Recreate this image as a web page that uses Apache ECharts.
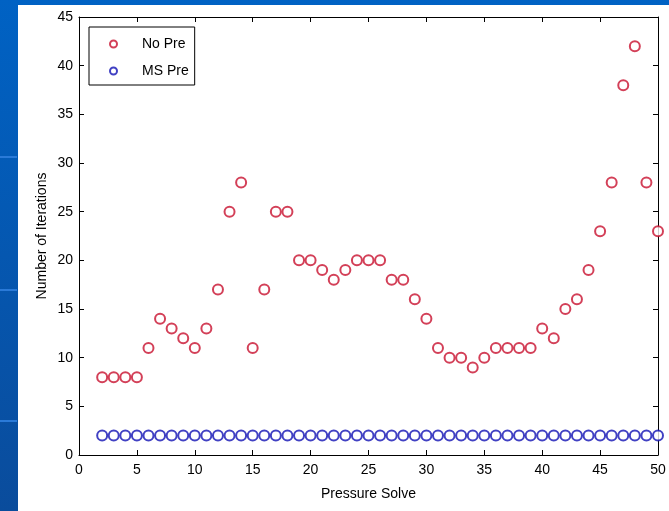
<!DOCTYPE html>
<html>
<head>
<meta charset="utf-8">
<script src="https://cdn.jsdelivr.net/npm/echarts@6/dist/echarts.min.js"></script>
<style>
  html, body { margin: 0; padding: 0; }
  #chart { width: 669px; height: 511px; }
</style>
</head>
<body>
<div id="chart"></div>
<script>
// Pressure solve index (x) and iteration counts per solve
const solves = [2,3,4,5,6,7,8,9,10,11,12,13,14,15,16,17,18,19,20,21,22,23,24,25,26,
                27,28,29,30,31,32,33,34,35,36,37,38,39,40,41,42,43,44,45,46,47,48,49,50];
const noPre = [8,8,8,8,11,14,13,12,11,13,17,25,28,11,17,25,25,20,20,19,18,19,20,20,20,
               18,18,16,14,11,10,10,9,10,11,11,11,11,13,12,15,16,19,23,28,38,42,28,23];
const msPre = [2,2,2,2,2,2,2,2,2,2,2,2,2,2,2,2,2,2,2,2,2,2,2,2,2,
               2,2,2,2,2,2,2,2,2,2,2,2,2,2,2,2,2,2,2,2,2,2,2,2];
const xTicks = [0,5,10,15,20,25,30,35,40,45,50];
const yTicks = [0,5,10,15,20,25,30,35,40,45];

const FONT = '"Liberation Sans", Arial, sans-serif';
const RED = '#c8102e';
const BLUE = '#1212b4';

const pairs = (xs, ys) => xs.map((x, i) => [x, ys[i]]);

const chart = echarts.init(document.getElementById('chart'));

// Mirror axes on top/right: box line with inward ticks, no labels
const tickOnly = {
  axisLine: { show: true, onZero: false, lineStyle: { color: '#000', width: 1 } },
  axisTick: { show: true, inside: true, length: 5, lineStyle: { color: '#000' } },
  axisLabel: { show: false },
  splitLine: { show: false }
};

chart.setOption({
  backgroundColor: {
    type: 'linear', x: 0, y: 0, x2: 0, y2: 1,
    colorStops: [{ offset: 0, color: '#0062c4' }, { offset: 1, color: '#0a4c9c' }]
  },
  animation: false,
  graphic: [
    { type: 'rect', z: -10, shape: { x: 18, y: 5, width: 651, height: 506 }, style: { fill: '#ffffff' } },
    { type: 'line', z: -10, shape: { x1: 0, y1: 157, x2: 17, y2: 157 }, style: { stroke: '#2a7ad8', lineWidth: 2 } },
    { type: 'line', z: -10, shape: { x1: 0, y1: 290, x2: 17, y2: 290 }, style: { stroke: '#2a7ad8', lineWidth: 2 } },
    { type: 'line', z: -10, shape: { x1: 0, y1: 421, x2: 17, y2: 421 }, style: { stroke: '#2a7ad8', lineWidth: 2 } }
  ],
  grid: { left: 79, right: 11, top: 17, bottom: 56 },
  legend: {
    left: 89, top: 27,
    orient: 'vertical',
    backgroundColor: '#fff',
    borderColor: '#000', borderWidth: 1, borderRadius: 0,
    padding: [9, 6, 6, 20],
    itemWidth: 7, itemHeight: 7, itemGap: 11,
    textStyle: { fontFamily: FONT, fontSize: 14, color: '#000', lineHeight: 16, padding: [0, 0, 0, 20] },
    data: [
      { name: 'No Pre', icon: 'emptyCircle' },
      { name: 'MS Pre', icon: 'emptyCircle' }
    ]
  },
  xAxis: [
    {
      type: 'value', min: 0, max: 50, interval: 5,
      name: 'Pressure Solve', nameLocation: 'middle', nameGap: 32,
      nameTextStyle: { fontFamily: FONT, fontSize: 14, color: '#000' },
      axisLine: { show: true, onZero: false, lineStyle: { color: '#000', width: 1 } },
      axisTick: { show: true, inside: true, length: 5, lineStyle: { color: '#000' } },
      axisLabel: { fontFamily: FONT, fontSize: 14, color: '#000', margin: 8,
        formatter: v => xTicks.includes(v) ? String(v) : '' },
      splitLine: { show: false }
    },
    Object.assign({ type: 'value', position: 'top', min: 0, max: 50, interval: 5 }, tickOnly)
  ],
  yAxis: [
    {
      type: 'value', min: 0, max: 45, interval: 5,
      name: 'Number of Iterations', nameLocation: 'middle', nameGap: 30,
      nameMoveOverlap: false,
      nameTextStyle: { fontFamily: FONT, fontSize: 14, color: '#000' },
      axisLine: { show: true, onZero: false, lineStyle: { color: '#000', width: 1 } },
      axisTick: { show: true, inside: true, length: 5, lineStyle: { color: '#000' } },
      axisLabel: { fontFamily: FONT, fontSize: 14, color: '#000', margin: 6,
        formatter: v => yTicks.includes(v) ? String(v) : '' },
      splitLine: { show: false }
    },
    Object.assign({ type: 'value', position: 'right', min: 0, max: 45, interval: 5 }, tickOnly)
  ],
  series: [
    {
      name: 'No Pre', type: 'scatter', symbol: 'emptyCircle', symbolSize: 10,
      itemStyle: { color: RED, borderColor: RED, borderWidth: 1.2 },
      data: pairs(solves, noPre)
    },
    {
      name: 'MS Pre', type: 'scatter', symbol: 'emptyCircle', symbolSize: 10,
      itemStyle: { color: BLUE, borderColor: BLUE, borderWidth: 1.2 },
      data: pairs(solves, msPre)
    }
  ]
});
</script>
</body>
</html>
